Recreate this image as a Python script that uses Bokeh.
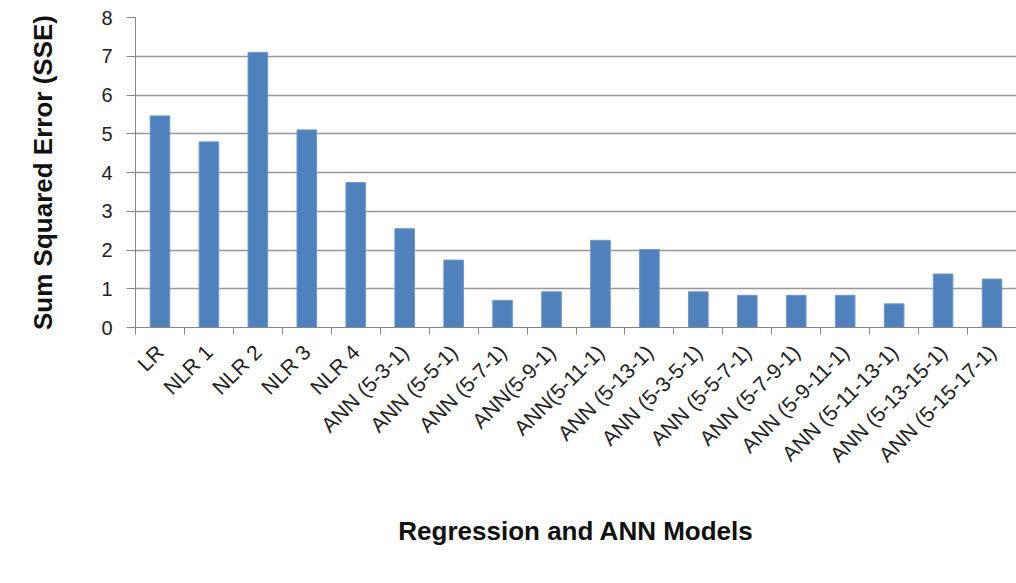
import math
from bokeh.plotting import figure
from bokeh.models import (Range1d, LinearAxis, FixedTicker, Title, ColumnDataSource)
from bokeh.embed import file_html
from bokeh.resources import INLINE

models = ["LR", "NLR 1", "NLR 2", "NLR 3", "NLR 4",
          "ANN (5-3-1)", "ANN (5-5-1)", "ANN (5-7-1)", "ANN(5-9-1)",
          "ANN(5-11-1)", "ANN (5-13-1)", "ANN (5-3-5-1)", "ANN (5-5-7-1)",
          "ANN (5-7-9-1)", "ANN (5-9-11-1)", "ANN (5-11-13-1)",
          "ANN (5-13-15-1)", "ANN (5-15-17-1)"]
sse = [5.46, 4.79, 7.10, 5.10, 3.74,
       2.55, 1.74, 0.70, 0.92,
       2.25, 2.01, 0.92, 0.83,
       0.83, 0.83, 0.61,
       1.38, 1.25]
y_ticks = [0, 1, 2, 3, 4, 5, 6, 7, 8]
x_title = "Regression and ANN Models"
y_title = "Sum Squared Error (SSE)"

FONT = "Liberation Sans"
GRID = "#999999"
AXIS = "#868686"

n = len(models)
centers = [i + 0.5 for i in range(n)]
bounds = list(range(n + 1))
src = ColumnDataSource(dict(x=centers, sse=sse))

p = figure(width=1016, height=583,
           x_range=Range1d(0, n),
           y_range=Range1d(0, 8),
           output_backend="svg", toolbar_location=None,
           x_axis_location=None,
           min_border_left=135, min_border_right=0,
           min_border_top=17, min_border_bottom=256)
p.outline_line_color = None
p.background_fill_color = "white"

p.vbar(x="x", top="sse", width=0.4, source=src,
       fill_color="#4F81BD", line_color="#6f97c9", line_width=1)

# y axis
ya = p.yaxis[0]
ya.ticker = FixedTicker(ticks=y_ticks)
ya.major_tick_out = 9
ya.major_tick_in = 0
ya.minor_tick_out = 0
ya.minor_tick_in = 0
ya.axis_line_color = AXIS
ya.major_tick_line_color = AXIS
ya.major_label_text_font = FONT
ya.major_label_text_font_size = "20px"
ya.major_label_text_color = "#222222"
ya.major_label_standoff = 14
ya.axis_label = y_title
ya.axis_label_text_font = FONT
ya.axis_label_text_font_size = "26px"
ya.axis_label_text_font_style = "bold"
ya.axis_label_text_color = "#111111"
ya.axis_label_standoff = 40

p.ygrid.ticker = FixedTicker(ticks=y_ticks)
p.ygrid.grid_line_color = GRID
p.ygrid.grid_line_width = 1.5
p.xgrid.grid_line_color = None

# x axis: names centred in each slot, tick marks (minor) at slot boundaries
xa = LinearAxis(ticker=FixedTicker(ticks=centers, minor_ticks=bounds),
                major_label_overrides={c: m for c, m in zip(centers, models)},
                axis_line_color=AXIS,
                major_tick_line_color=None,
                major_tick_in=0, major_tick_out=0,
                minor_tick_line_color=AXIS,
                minor_tick_in=0, minor_tick_out=7,
                major_label_orientation=math.pi / 4,
                major_label_standoff=14,
                major_label_text_font=FONT,
                major_label_text_font_size="21px",
                major_label_text_color="#222222")
p.add_layout(xa, "below")

t = Title(text=x_title, align="center", offset=48, vertical_align="bottom",
          text_font=FONT, text_font_size="26px", text_font_style="bold",
          text_color="#111111")
t.standoff = 72
p.add_layout(t, "below")

open("out.html", "w").write(file_html(p, INLINE))
